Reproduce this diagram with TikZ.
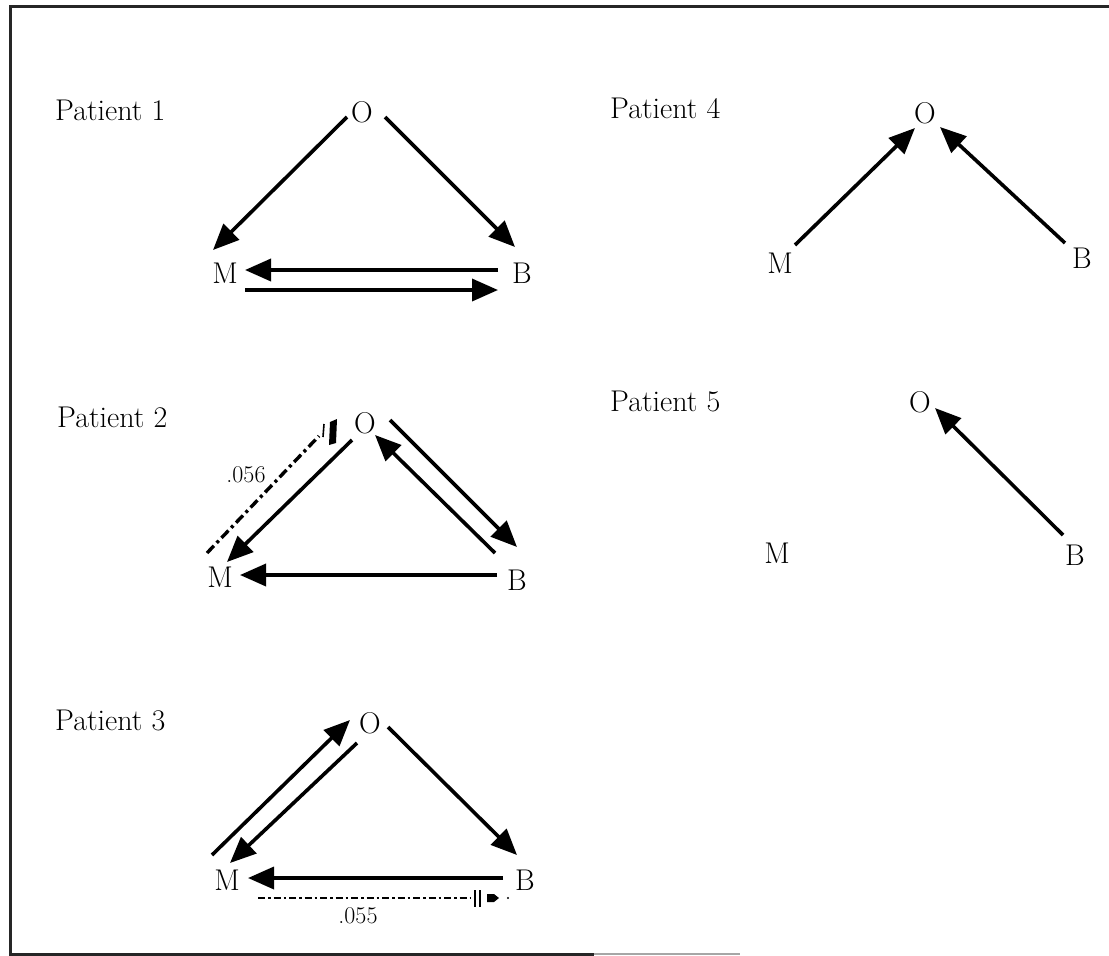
\documentclass[tikz,border=0pt]{standalone}
\usepackage{fontspec}
\usetikzlibrary{arrows.meta}
\begin{document}
\begin{tikzpicture}[x=1pt,y=-1pt,
  lbl/.style={inner sep=0pt,font=\fontsize{30}{36}\selectfont},
  numlbl/.style={inner sep=0pt,font=\fontsize{24}{28}\selectfont},
  arr/.style={line width=3.6pt,-{Triangle[length=26pt,width=22pt]}},
  ddthick/.style={line width=3.4pt,dash pattern=on 10pt off 4pt on 3pt off 4pt},
  ddthin/.style={line width=2.2pt,dash pattern=on 7pt off 3pt on 2.5pt off 3pt},
  frame/.style={line width=3pt,draw=black!85}]
\useasboundingbox (0,0) rectangle (1109,956);
% frame
\draw[frame] (1109,6) -- (10,6) -- (10,954) -- (594,954);
\draw[line width=1.5pt,draw=black!35] (594,954) -- (740,954);

% labels
\node[lbl,anchor=base west] (P1) at (55,120) {Patient 1};
\node[lbl,anchor=base west] (P2) at (57,427) {Patient 2};
\node[lbl,anchor=base west] (P3) at (55,730) {Patient 3};
\node[lbl,anchor=base west] (P4) at (610,118) {Patient 4};
\node[lbl,anchor=base west] (P5) at (610,411) {Patient 5};

% Patient 1
\node[lbl] (O1) at (362,112) {O};
\node[lbl] (M1) at (225,273) {M};
\node[lbl] (B1) at (522,273) {B};
\draw[arr] ([shift={(-15,5)}]O1.center) -- ([shift={(-12,-23)}]M1.center);
\draw[arr] ([shift={(23,5)}]O1.center) -- ([shift={(-7,-26)}]B1.center);
\draw[arr] ([shift={(-24,-3)}]B1.center) -- ([shift={(20,-3)}]M1.center);
\draw[arr] ([shift={(20,17)}]M1.center) -- ([shift={(-24,17)}]B1.center);

% Patient 2
\node[lbl] (O2) at (365,423) {O};
\node[lbl] (M2) at (220,577) {M};
\node[lbl] (B2) at (517,580) {B};
\draw[arr] ([shift={(-13,17)}]O2.center) -- ([shift={(7,-15)}]M2.center);
\draw[arr] ([shift={(25,-3)}]O2.center) -- ([shift={(0,-33)}]B2.center);
\draw[arr] ([shift={(-22,-27)}]B2.center) -- ([shift={(10,12)}]O2.center);
\draw[arr] ([shift={(-20,-5)}]B2.center) -- ([shift={(20,-2)}]M2.center);
\draw[ddthick] ([shift={(-13,-24)}]M2.center) -- ([shift={(-46,13)}]O2.center);
\draw[line width=1.6pt] ([shift={(-41,1)}]O2.center) -- ([shift={(-42,14)}]O2.center);
\fill ([shift={(-35,-1)}]O2.center) -- ([shift={(-28,-4)}]O2.center)
      -- ([shift={(-29,20)}]O2.center) -- ([shift={(-36,22)}]O2.center) -- cycle;
\node[numlbl] (n056) at (246,475) {.056};

% Patient 3
\node[lbl] (O3) at (370,723) {O};
\node[lbl] (M3) at (227,880) {M};
\node[lbl] (B3) at (525,880) {B};
\draw[arr] ([shift={(-15,-25)}]M3.center) -- ([shift={(-20,-3)}]O3.center);
\draw[arr] ([shift={(-13,20)}]O3.center) -- ([shift={(3,-17)}]M3.center);
\draw[arr] ([shift={(18,4)}]O3.center) -- ([shift={(-8,-25)}]B3.center);
\draw[arr] ([shift={(-22,-2)}]B3.center) -- ([shift={(21,-2)}]M3.center);
\draw[ddthin] ([shift={(31,18)}]M3.center) -- ([shift={(-55,18)}]B3.center);
\draw[line width=1.4pt] ([shift={(-50,10)}]B3.center) -- ([shift={(-50,27)}]B3.center);
\draw[line width=1.4pt] ([shift={(-45,10)}]B3.center) -- ([shift={(-45,27)}]B3.center);
\fill ([shift={(-38,14)}]B3.center) -- ([shift={(-31,14)}]B3.center)
      -- ([shift={(-26,18)}]B3.center) -- ([shift={(-31,22)}]B3.center)
      -- ([shift={(-38,22)}]B3.center) -- cycle;
\fill ([shift={(-17,18)}]B3.center) circle (1.2pt);
\node[numlbl] (n055) at (358,916) {.055};

% Patient 4
\node[lbl] (O4) at (925,113) {O};
\node[lbl] (M4) at (780,263) {M};
\node[lbl] (B4) at (1082,258) {B};
\draw[arr] ([shift={(15,-18)}]M4.center) -- ([shift={(-10,15)}]O4.center);
\draw[arr] ([shift={(-17,-15)}]B4.center) -- ([shift={(15,14)}]O4.center);

% Patient 5
\node[lbl] (O5) at (920,402) {O};
\node[lbl] (M5) at (777,553) {M};
\node[lbl] (B5) at (1075,555) {B};
\draw[arr] ([shift={(-12,-20)}]B5.center) -- ([shift={(15,6)}]O5.center);
\end{tikzpicture}
\end{document}
